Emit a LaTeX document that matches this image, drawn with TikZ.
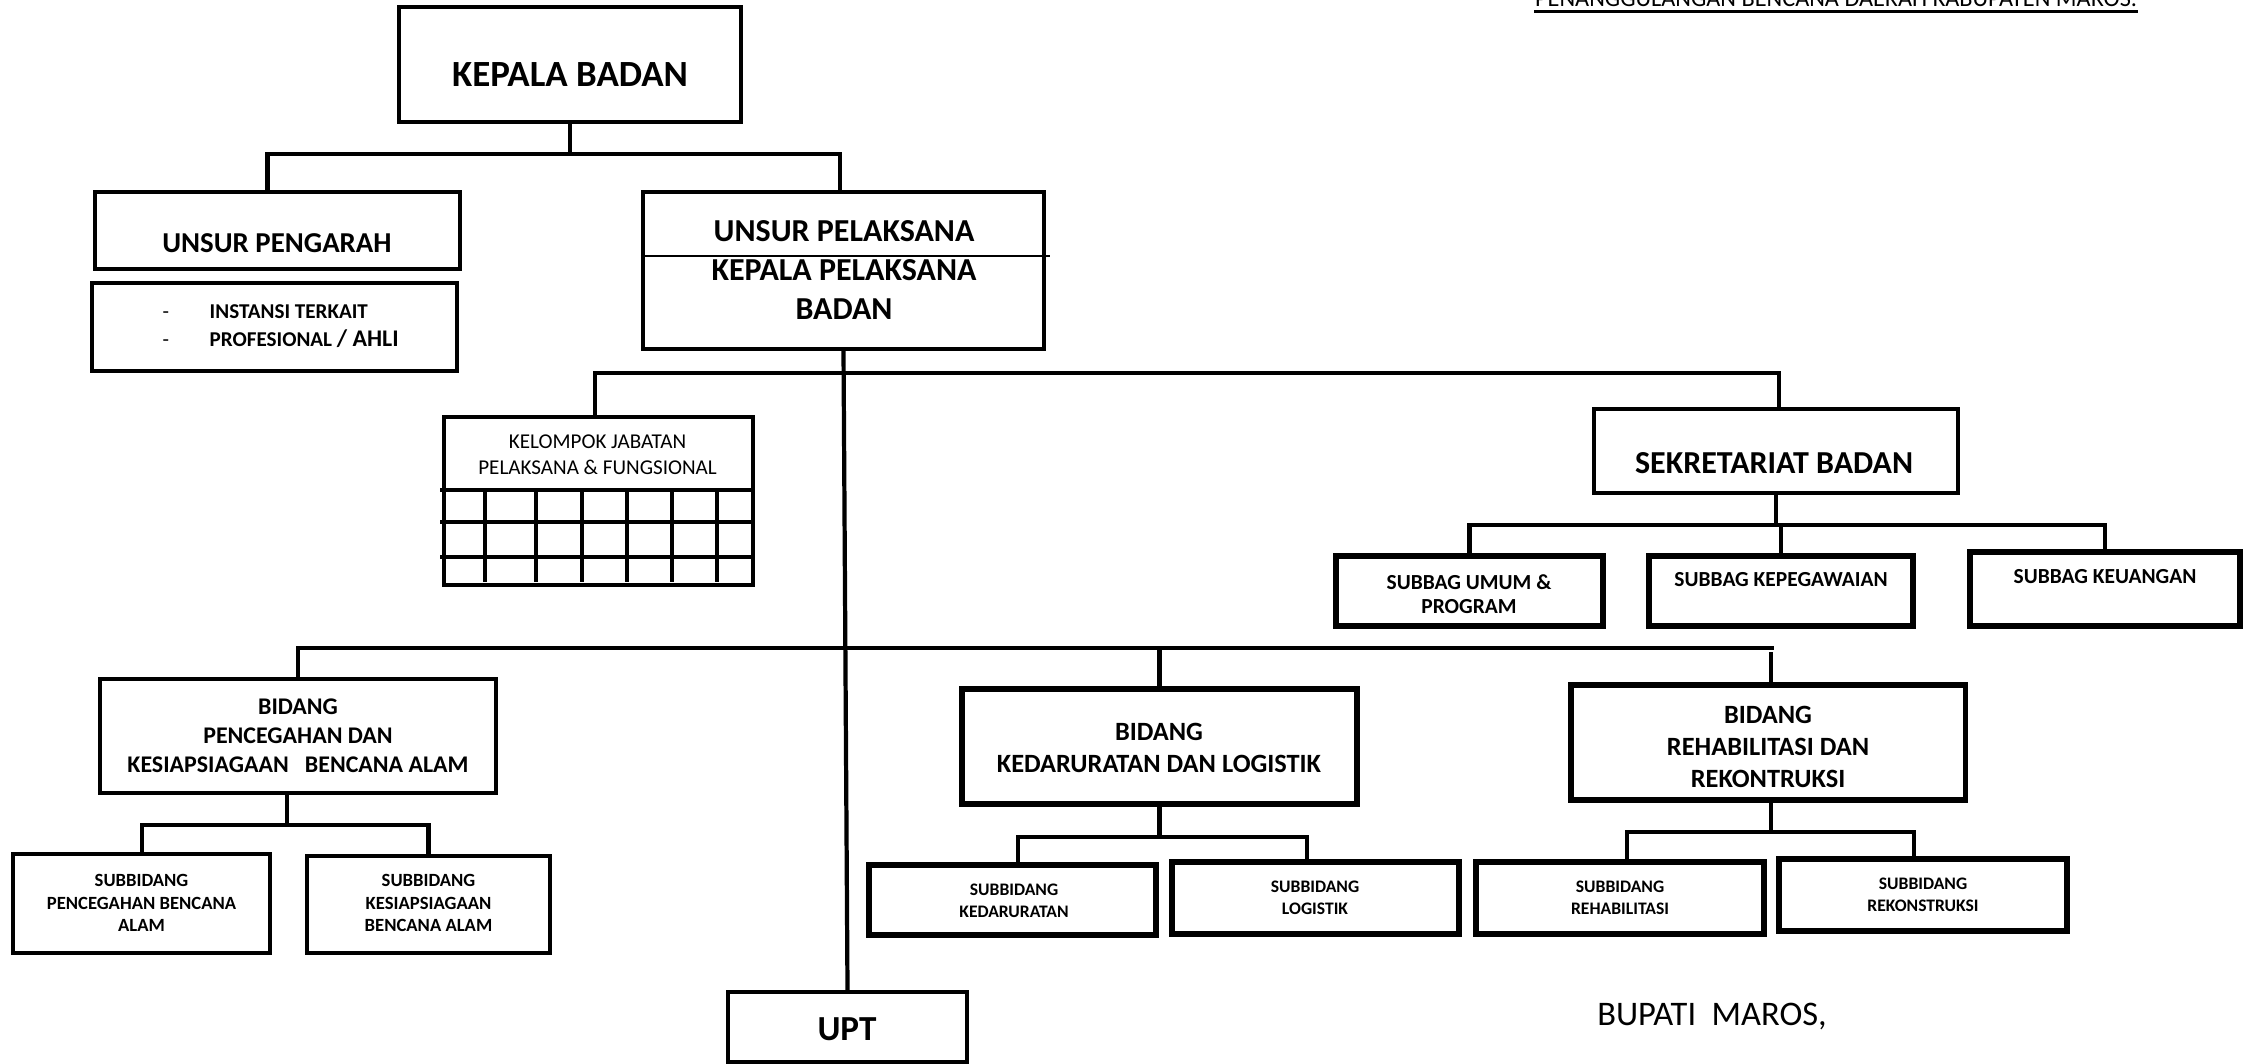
\documentclass[tikz,border=0pt]{standalone}
\usepackage{fontspec}
\setmainfont{Carlito}
\newcommand{\fsz}[2]{\fontsize{#1}{#2}\selectfont}
\begin{document}
\begin{tikzpicture}[x=0.01cm,y=-0.01cm,
  bx/.style={draw,line width=1.2pt,inner sep=0pt},
  bxk/.style={draw,line width=1.5pt,inner sep=0pt},
  cn/.style={line width=1.2pt},
  tx/.style={inner sep=0pt,align=center}]
\clip (0,0) rectangle (2252,1063);
% header (cut off at top)
\node[anchor=base,inner sep=0pt,font=\fsz{6.9}{8}] (hdr) at (1836,6) {PENANGGULANGAN BENCANA DAERAH KABUPATEN MAROS.};
\draw[line width=0.6pt] ([yshift=-0.055cm]hdr.base west) -- ([yshift=-0.055cm]hdr.base east);
% kepala
\node[bx,minimum width=3.42cm,minimum height=1.15cm] (kb) at (570,64.5) {};
\node[tx,font=\bfseries\fsz{10.5}{12}] (kbt) at (570,75) {KEPALA BADAN};
% unsur pengarah
\node[bx,minimum width=3.65cm,minimum height=0.77cm] (up) at (277.5,230.5) {};
\node[tx,font=\bfseries\fsz{8.2}{10}] (upgt) at (277,243) {UNSUR PENGARAH};
\node[bx,minimum width=3.65cm,minimum height=0.88cm] (ua) at (274.5,327) {};
\node[anchor=west,inner sep=0pt,align=left,font=\bfseries\fsz{6}{8}] (uat) at (162,326) {\makebox[0.47cm][l]{\mdseries-}INSTANSI TERKAIT\\\makebox[0.47cm][l]{\mdseries-}PROFESIONAL {\fsz{6.8}{8}/ AHLI}};
% unsur pelaksana
\node[bx,minimum width=4.01cm,minimum height=1.57cm] (upl) at (843.5,270.5) {};
\node[tx,font=\bfseries\fsz{9.1}{11.1}] (uplt) at (844,270) {UNSUR PELAKSANA\\KEPALA PELAKSANA\\BADAN};
\draw[line width=0.5pt] ([yshift=0.145cm]upl.west) -- ([xshift=0.04cm,yshift=0.145cm]upl.east);
% kelompok
\node[bx,minimum width=3.09cm,minimum height=1.68cm] (kel) at (598.5,501) {};
\node[tx,font=\fsz{6}{7.4}] (kelt) at (597.5,455) {KELOMPOK JABATAN\\PELAKSANA \& FUNGSIONAL};
\foreach \y in {490,522,557} \draw[cn] (440,\y) -- (752,\y);
\foreach \x in {485,536,582,627,672,717} \draw[cn] (\x,488) -- (\x,582);
% sekretariat
\node[bx,minimum width=3.64cm,minimum height=0.84cm] (sek) at (1776,451) {};
\node[tx,font=\bfseries\fsz{9.1}{11}] (sekt) at (1774,463) {SEKRETARIAT BADAN};
\node[bxk,minimum width=2.67cm,minimum height=0.70cm] (sb1) at (1469.5,591) {};
\node[tx,font=\bfseries\fsz{6.1}{6.8}] (sb1t) at (1469,594) {SUBBAG UMUM \&\\PROGRAM};
\node[bxk,minimum width=2.64cm,minimum height=0.70cm] (sb2) at (1781,591) {};
\node[tx,font=\bfseries\fsz{6.1}{6.8}] (sb2t) at (1781,580) {SUBBAG KEPEGAWAIAN};
\node[bxk,minimum width=2.70cm,minimum height=0.74cm] (sb3) at (2105,589) {};
\node[tx,font=\bfseries\fsz{6.1}{6.8}] (sb3t) at (2105,577) {SUBBAG KEUANGAN};
% bidang
\node[bx,minimum width=3.96cm,minimum height=1.14cm] (bd1) at (298,736) {};
\node[tx,font=\bfseries\fsz{6.8}{8.2}] (bd1t) at (298,736) {BIDANG\\PENCEGAHAN DAN\\KESIAPSIAGAAN\ \ \ BENCANA ALAM};
\node[bxk,minimum width=3.95cm,minimum height=1.15cm] (bd2) at (1159.5,746.5) {};
\node[tx,font=\bfseries\fsz{7.5}{9.1}] (bd2t) at (1159,748) {BIDANG\\KEDARURATAN DAN LOGISTIK};
\node[bxk,minimum width=3.94cm,minimum height=1.15cm] (bd3) at (1768,742.5) {};
\node[tx,font=\bfseries\fsz{7.5}{9.2}] (bd3t) at (1768,747) {BIDANG\\REHABILITASI DAN\\REKONTRUKSI};
% subbidang
\node[bx,minimum width=2.57cm,minimum height=0.99cm] (sp1) at (141.5,903.5) {};
\node[tx,font=\bfseries\fsz{5.3}{6.5}] (sp1t) at (141.5,903) {SUBBIDANG\\PENCEGAHAN BENCANA\\ALAM};
\node[bx,minimum width=2.43cm,minimum height=0.97cm] (sp2) at (428.5,904.5) {};
\node[tx,font=\bfseries\fsz{5.3}{6.5}] (sp2t) at (428.5,903) {SUBBIDANG\\KESIAPSIAGAAN\\BENCANA ALAM};
\node[bxk,minimum width=2.87cm,minimum height=0.70cm] (sk1) at (1012.5,900) {};
\node[tx,font=\bfseries\fsz{5}{6.3}] (sk1t) at (1014,901) {SUBBIDANG\\KEDARURATAN};
\node[bxk,minimum width=2.87cm,minimum height=0.72cm] (sk2) at (1315.5,898) {};
\node[tx,font=\bfseries\fsz{5}{6.3}] (sk2t) at (1315,897.5) {SUBBIDANG\\LOGISTIK};
\node[bxk,minimum width=2.88cm,minimum height=0.72cm] (sr1) at (1620,898) {};
\node[tx,font=\bfseries\fsz{5}{6.3}] (sr1t) at (1620,897.5) {SUBBIDANG\\REHABILITASI};
\node[bxk,minimum width=2.88cm,minimum height=0.72cm] (sr2) at (1923,895) {};
\node[tx,font=\bfseries\fsz{5}{6.3}] (sr2t) at (1923,894.5) {SUBBIDANG\\REKONSTRUKSI};
% UPT
\node[bx,minimum width=2.39cm,minimum height=0.70cm] (uptb) at (847.5,1027) {};
\node[tx,font=\bfseries\fsz{10}{12}] (uptt) at (847,1029) {UPT};
% bupati
\node[anchor=base,inner sep=0pt,font=\fsz{9.8}{11}] (bup) at (1712,1025) {BUPATI\ \ MAROS,};
% connectors
\coordinate (j1) at (570,154);
\draw[cn] (kb.south) -- (j1);
\draw[cn] ([xshift=-0.1cm]up.north) |- (j1) -| ([xshift=-0.035cm]upl.north);
\draw[cn] (upl.south) -- (uptb.north);
\coordinate (j2) at (846,373);
\draw[cn] ([xshift=-0.035cm]kel.north) |- (j2) -| ([xshift=0.03cm]sek.north);
\draw[cn] (sek.south) -- ++(0,30) coordinate (j3);
\draw[cn] (sb1.north) |- (j3) -| (sb3.north);
\draw[cn] (sb2.north) -- (sb2.north |- j3);
\coordinate (j4) at (1774,648);
\draw[cn] (bd1.north) |- (j4);
\draw[cn] (bd2.north) -- (bd2.north |- j4);
\draw[cn] ([xshift=0.03cm]bd3.north) -- ++(0,-30);
\draw[cn] ([xshift=-0.11cm]bd1.south) -- ++(0,30) coordinate (j5);
\draw[cn] ([xshift=0.005cm]sp1.north) |- (j5) -| (sp2.north);
\draw[cn] (bd2.south) -- ++(0,30) coordinate (j6);
\draw[cn] ([xshift=0.055cm]sk1.north) |- (j6) -| ([xshift=-0.085cm]sk2.north);
\draw[cn] ([xshift=0.03cm]bd3.south) -- ++(0,29) coordinate (j7);
\draw[cn] ([xshift=0.07cm]sr1.north) |- (j7) -| ([xshift=-0.09cm]sr2.north);
\end{tikzpicture}
\end{document}
